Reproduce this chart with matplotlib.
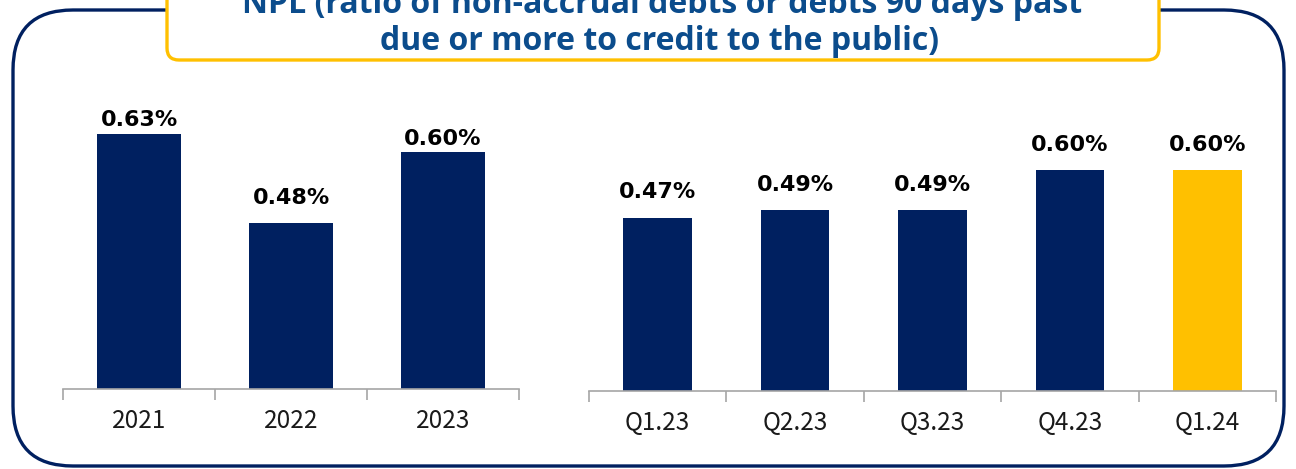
import matplotlib.pyplot as plt
from matplotlib.patches import FancyBboxPatch

# yearly and quarterly NPL ratios (%)
years = ["2021", "2022", "2023"]
year_npl = [0.63, 0.48, 0.60]
quarters = ["Q1.23", "Q2.23", "Q3.23", "Q4.23", "Q1.24"]
quarter_npl = [0.47, 0.49, 0.49, 0.60, 0.60]

title_line1 = "NPL (ratio of non-accrual debts or debts 90 days past"
title_line2 = "due or more to credit to the public)"

NAVY = "#002060"
GOLD = "#FFC000"
TITLE_BLUE = "#0B4C8C"
W, H = 1296, 469

fig = plt.figure(figsize=(W / 100, H / 100), dpi=100)

# background layer in pixel units for the frame and the title box
bg = fig.add_axes([0, 0, 1, 1], zorder=0)
bg.set_xlim(0, W)
bg.set_ylim(H, 0)
bg.axis("off")

frame = FancyBboxPatch((13, 10), 1271, 456, boxstyle="round,pad=0,rounding_size=60",
                       facecolor="white", edgecolor=NAVY, linewidth=2.4)
bg.add_patch(frame)
title_box = FancyBboxPatch((167, -30), 992, 90, boxstyle="round,pad=0,rounding_size=12",
                           facecolor="white", edgecolor=GOLD, linewidth=2.4)
bg.add_patch(title_box)

title_font = ["Open Sans", "DejaVu Sans"]
bg.text(662, 13, title_line1, ha="center", va="baseline", fontsize=23,
        fontweight="bold", color=TITLE_BLUE, family=title_font)
bg.text(660, 50, title_line2, ha="center", va="baseline", fontsize=23,
        fontweight="bold", color=TITLE_BLUE, family=title_font)


def bar_panel(rect, labels, values, ymin, ymax, width, colors, gaps):
    ax = fig.add_axes(rect, zorder=1)
    ax.patch.set_alpha(0)
    x = range(len(labels))
    bars = ax.bar(x, [v - ymin for v in values], bottom=ymin, width=width, color=colors)
    ax.set_xlim(-0.5, len(labels) - 0.5)
    ax.set_ylim(ymin, ymax)
    # gap in pixels between bar top and label baseline
    for b, v, g in zip(bars, values, gaps):
        ax.annotate(f"{v:.2f}%", (b.get_x() + b.get_width() / 2, v),
                    xytext=(0, g * 0.72), textcoords="offset points", ha="center",
                    va="baseline", fontsize=16, fontweight="bold", color="black",
                    family="DejaVu Sans", annotation_clip=False)
    for s in ["top", "right", "left"]:
        ax.spines[s].set_visible(False)
    ax.spines["bottom"].set_color("#A6A6A6")
    ax.spines["bottom"].set_linewidth(1.2)
    ax.set_yticks([])
    ax.set_xticks(list(x))
    ax.set_xticklabels(labels, fontsize=17.5, family=["Noto Sans CJK JP", "DejaVu Sans"],
                       color="#1A1A1A")
    ax.tick_params(axis="x", which="major", length=0, pad=14)
    ax.set_xticks([i - 0.5 for i in range(len(labels) + 1)], minor=True)
    ax.tick_params(axis="x", which="minor", length=8, width=1.2, color="#A6A6A6")
    return ax


# left panel: yearly, axis starts at 0.2%
bar_panel([63 / W, (H - 389) / H, 456 / W, 289 / H], years, year_npl,
          0.2, 0.2 + 289 / 593, 0.55, [NAVY] * 3, [8, 19, 7])

# right panel: quarterly, last quarter highlighted
bar_panel([589 / W, (H - 391) / H, 687 / W, 291 / H], quarters, quarter_npl,
          0.0, 291 / 369, 0.5, [NAVY] * 4 + [GOLD], [20, 19, 19, 19, 19])

fig.savefig("out.png", dpi=100)
